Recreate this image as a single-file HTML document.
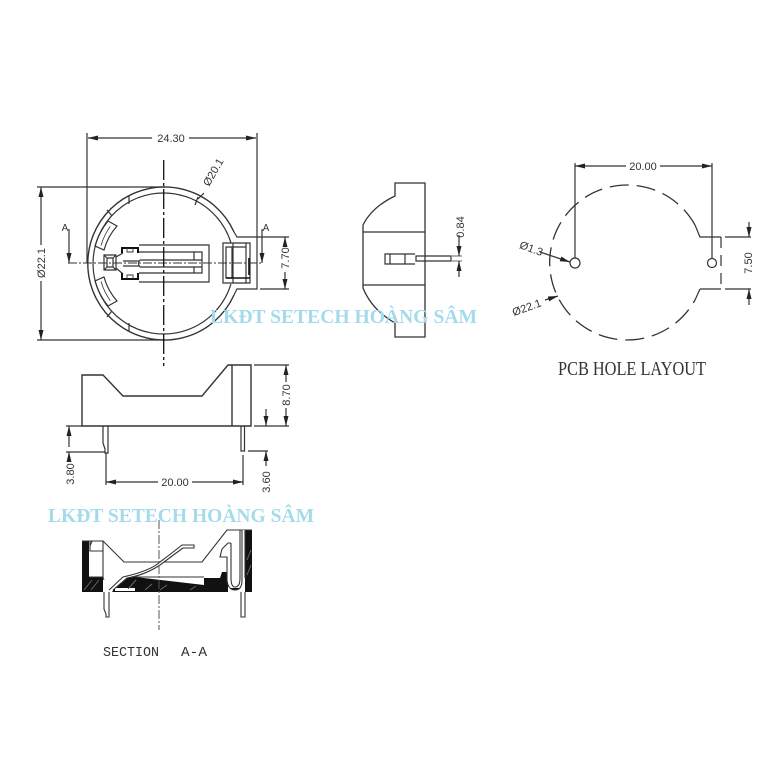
<!DOCTYPE html>
<html><head><meta charset="utf-8"><style>
html,body{margin:0;padding:0;background:#fff}
svg{display:block}
.d{filter:blur(.35px)}
text{font-family:"Liberation Sans",sans-serif;font-size:11px;fill:#333;text-anchor:middle}
.wm{font-family:"Liberation Serif",serif;font-weight:bold;font-size:20px;fill:#a4dbec;text-anchor:start}
</style></head><body>
<svg width="784" height="784" viewBox="0 0 784 784" xmlns="http://www.w3.org/2000/svg">
<defs><marker id="a" viewBox="0 0 10 6" refX="10" refY="3" markerWidth="10" markerHeight="6" markerUnits="userSpaceOnUse" orient="auto-start-reverse"><path d="M0 .5L10 3L0 5.500z" fill="#222"/></marker></defs>
<rect width="784" height="784" fill="#fff"/>
<g class="d">
<g fill="none" stroke="#333" stroke-width="1.2">
<!-- top view -->
<path d="M234 232L237 237H257V289H237L234 295" />
<path d="M234 232A76.500 76.500 0 1 0 234 295" stroke-width="1.4"/>
<path d="M231 243A70.500 70.500 0 1 0 231 284"/>
<path d="M129 196V204M198 197L195 205M107 210L112 216M107 317L112 311M129 331V323"/>
<path d="M108 221L117 226A60 60 0 0 0 104 250L95 246A70 70 0 0 1 108 221Z"/>
<path d="M108 306L117 301A60 60 0 0 1 104 277L95 281A70 70 0 0 0 108 306Z"/>
<path d="M110.300 226.200A65 65 0 0 0 101 245.600M110.300 300.800A65 65 0 0 1 101 281.400" stroke-width=".8"/>
<path d="M139 245H209V282H139M139 252H202V273H139M140 260H202M140 267H202M194 252V260M194 267V273M140 260Q137 263.500 140 267"/>
<path d="M104 255H116V270H104ZM107 258H113V267H107ZM104 255L107 258M116 255L113 258M104 270L107 267M116 270L113 267M116 257L123 253M116 268L123 274M123 261H139M123 266H139"/>
<path d="M138 253V248H122V253M138 273V279H122V273" stroke="#111" stroke-width="2"/>
<path d="M127 248V252H133V248M127 279V275H133V279" stroke-width=".9"/>
<path d="M223 243H250V283H223ZM226 247H232V278H226ZM233 243V283M246 243V283M226 247H246"/>
<path d="M226 278H250" stroke="#111" stroke-width="1.5"/><path d="M249 258V275" stroke="#111" stroke-width="1.6"/>
<!-- dims top -->
<path d="M87 133V263M257 133V237"/>
<path d="M152 138H88" marker-end="url(#a)"/><path d="M189 138H256" marker-end="url(#a)"/>
<path d="M37 187H165M37 340H165"/>
<path d="M41 245V187" marker-end="url(#a)"/><path d="M41 281V340" marker-end="url(#a)"/>
<path d="M257 237H289M260 289H289"/>
<path d="M285 244V237" marker-end="url(#a)"/><path d="M285 272V289" marker-end="url(#a)"/>
<path d="M69 229V263" marker-end="url(#a)"/><path d="M262 229V263" marker-end="url(#a)"/>
<path d="M204 193L198 199" />
<path d="M68 263H262" stroke-dasharray="9 2 2 2" stroke-width="1"/>
<path d="M163.700 160V366" stroke="#111" stroke-dasharray="20 3 3 3" stroke-width="1.3"/>
<!-- side elevation -->
<path d="M82 426V375H103L123 396H202L228 365H251V426ZM232 365V426" stroke-width="1.4"/>
<path d="M66 426H82M254 426H289M254 365H289"/>
<path d="M103 426V443L105 449V453H108V426M241 426V451H244.500V426"/>
<path d="M66 452H105M248 451H268M106 453V485M243 455V485"/>
<path d="M69 447V426" marker-end="url(#a)"/><path d="M69 462V452" marker-end="url(#a)"/>
<path d="M158 482H106" marker-end="url(#a)"/><path d="M192 482H243" marker-end="url(#a)"/>
<path d="M286 382V365" marker-end="url(#a)"/><path d="M286 408V426" marker-end="url(#a)"/>
<path d="M266 409V426" marker-end="url(#a)"/><path d="M266 466V451" marker-end="url(#a)"/>
<!-- side view -->
<path d="M395 183H425V337H395V323Q372 310 363 288V225Q372 207 395 196Z" stroke-width="1.3"/>
<path d="M363 232H425M363 285H425"/>
<path d="M415 254H385V264H415M390 254V264M405 254V264M416 256H451V261H416Z"/>
<path d="M452 256H462M452 261H462" stroke-width=".7"/>
<path d="M459 235V256" marker-end="url(#a)"/><path d="M459 277V261" marker-end="url(#a)"/>
<!-- PCB -->
<path d="M695 225A77.500 77.500 0 1 0 695 300" stroke-dasharray="19 8" stroke-width="1.3"/>
<path d="M695 225L700 237H721M700 289L695 300M700 289H721"/>
<path d="M721 237V289" stroke-dasharray="11 7"/>
<path d="M725 237H751M725 289H751"/>
<circle cx="575" cy="263" r="5"/><circle cx="712" cy="263" r="4.500"/>
<path d="M575 163V258M712 163V258"/>
<path d="M626 166H575" marker-end="url(#a)"/><path d="M660 166H712" marker-end="url(#a)"/>
<path d="M749 222V237" marker-end="url(#a)"/><path d="M749 305V289" marker-end="url(#a)"/>
<path d="M540 252L570 262" marker-end="url(#a)"/>
<path d="M545 300L558 296" marker-end="url(#a)"/>
</g>
<!-- section -->
<path d="M82 541H89V577H103V592H82Z" fill="#111"/>
<path d="M112 592L123 577H135L204 585V578H220L222 572H228V592Z" fill="#111"/>
<path d="M245 530H252V592H228V588H245Z" fill="#111"/>
<path d="M115 588H135V591H115Z" fill="#fff"/>
<path d="M84 590L92 580M91 590L99 580M128 589L136 580M145 590L152 584M160 590L167 585M190 590L196 586M247 560L251 550M247 575L251 565" stroke="#666" stroke-width="1"/>
<g fill="none" stroke="#333" stroke-width="1.1">
<path d="M82 541H103L124 562H202L227 530H252"/>
<path d="M89 541H103V551H90V541M103 551V577M92 541L90 546"/>
<path d="M104 592V580H109V592" fill="#fff" stroke="none"/>
<path d="M89 577H103L104 580M135 577H204" stroke-width=".9"/>
<path d="M109 590L123 577Q150 571 160 562Q172 553 182 545H194V548H183Q172 556 160 565Q145 575 127 578L113 590" fill="#fff"/>
<path d="M228 543L222 549L220 557H227V580Q228 590 235 590Q242 590 242 580V530H245V592H228V543Z" fill="#fff" stroke="none"/>
<path d="M228 543L222 549L220 557H227V580Q228 590 235 590Q242 590 242 580V530M231 543H228M231 543V578Q231 587 235 587Q240 587 240 578V530M245 530V578"/>
<path d="M104 592V609L106 614V617H109V592M241 592V617H245V592"/>
</g>
<path d="M159 520V630" fill="none" stroke="#555" stroke-dasharray="9 2 2 2"/>
<!-- labels -->
<text x="171" y="142">24.30</text>
<text transform="translate(213,172) rotate(-60)" y="4">Ø20.1</text>
<text transform="translate(45,263) rotate(-90)">Ø22.1</text>
<text transform="translate(289,258) rotate(-90)">7.70</text>
<text x="65" y="231" style="font-size:10px">A</text>
<text x="266" y="231" style="font-size:10px">A</text>
<text transform="translate(290,395) rotate(-90)">8.70</text>
<text transform="translate(74,474) rotate(-90)">3.80</text>
<text transform="translate(270,482) rotate(-90)">3.60</text>
<text x="175" y="486">20.00</text>
<text transform="translate(464,227) rotate(-90)">0.84</text>
<text x="643" y="170">20.00</text>
<text transform="translate(752,263) rotate(-90)">7.50</text>
<text transform="translate(530,252) rotate(20)">Ø1.3</text>
<text transform="translate(528,311) rotate(-20)">Ø22.1</text>
<text x="103" y="656" textLength="56" lengthAdjust="spacingAndGlyphs" style="font-family:'Liberation Mono',monospace;font-size:14px;text-anchor:start">SECTION</text>
<text x="181" y="656" textLength="26" lengthAdjust="spacingAndGlyphs" style="font-family:'Liberation Mono',monospace;font-size:14px;text-anchor:start">A-A</text>
<text x="558" y="375" textLength="148" lengthAdjust="spacingAndGlyphs" style="font-family:'Liberation Serif',serif;font-size:20px;text-anchor:start">PCB HOLE LAYOUT</text>
</g>
<text class="wm" x="210" y="323" textLength="267" lengthAdjust="spacingAndGlyphs">LKĐT SETECH HOÀNG SÂM</text>
<text class="wm" x="48" y="522" textLength="266" lengthAdjust="spacingAndGlyphs">LKĐT SETECH HOÀNG SÂM</text>
</svg>
</body></html>
